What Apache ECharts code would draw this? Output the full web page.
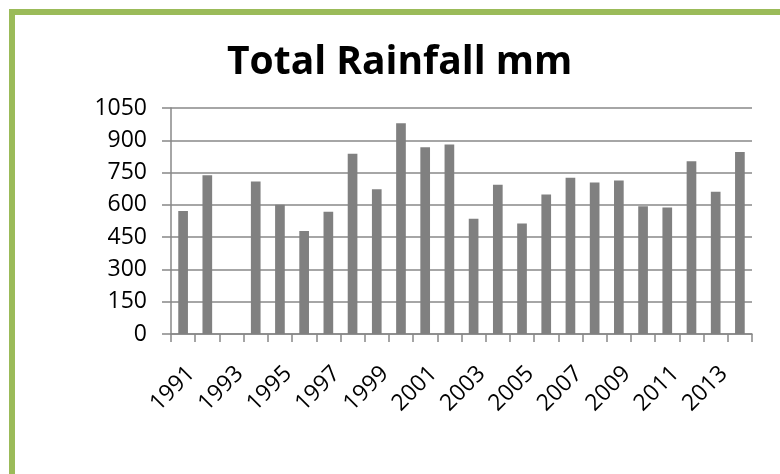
<!DOCTYPE html>
<html>
<head>
<meta charset="utf-8">
<script src="https://cdn.jsdelivr.net/npm/echarts@6/dist/echarts.min.js"></script>
<style>
html,body{margin:0;padding:0;background:#fff;}
#frame{position:absolute;left:9px;top:9px;width:771px;height:465px;border-left:6px solid #9BBB59;border-top:6px solid #9BBB59;box-sizing:border-box;}
#chart{position:absolute;left:0;top:0;width:780px;height:474px;}
</style>
</head>
<body>
<div id="frame"></div>
<div id="chart"></div>
<script>
var titleText = 'Total Rainfall mm';
var years = ['1991','1992','1993','1994','1995','1996','1997','1998','1999','2000','2001','2002','2003','2004','2005','2006','2007','2008','2009','2010','2011','2012','2013','2014'];
var rainfall = [571, 737, null, 709, 600, 478, 568, 837, 672, 979, 868, 881, 535, 693, 513, 648, 726, 704, 713, 594, 588, 803, 661, 845];
var yMin = 0, yMax = 1050, yStep = 150;

var chart = echarts.init(document.getElementById('chart'), null, {renderer: 'canvas'});
var axisGray = '#888888';
chart.setOption({
  animation: false,
  backgroundColor: 'transparent',
  title: {
    text: titleText,
    left: 222,
    top: 38,
    textStyle: {fontFamily: 'Open Sans', fontWeight: 'bold', fontSize: 39, color: '#000'}
  },
  grid: {left: 171, right: 28, top: 108, bottom: 140, containLabel: false},
  xAxis: {
    type: 'category',
    data: years,
    boundaryGap: true,
    axisLine: {show: true, lineStyle: {color: axisGray, width: 1.5}},
    axisTick: {show: true, interval: 0, length: 8, alignWithLabel: false, lineStyle: {color: axisGray, width: 1.5}},
    axisLabel: {interval: 1, rotate: 45, margin: 28, verticalAlign: 'top', fontFamily: 'Open Sans', fontSize: 23, color: '#000'},
    splitLine: {show: false}
  },
  yAxis: {
    type: 'value',
    min: yMin, max: yMax, interval: yStep,
    axisLine: {show: true, lineStyle: {color: axisGray, width: 1.5}},
    axisTick: {show: true, length: 9, lineStyle: {color: axisGray, width: 1.5}},
    axisLabel: {margin: 24, fontFamily: 'Open Sans', fontSize: 23, color: '#000', formatter: function (v) { return String(v); }},
    splitLine: {show: true, lineStyle: {color: axisGray, width: 1.5}}
  },
  series: [{
    type: 'bar',
    data: rainfall,
    barCategoryGap: '60%',
    itemStyle: {color: '#808080'}
  }]
});
</script>
</body>
</html>
